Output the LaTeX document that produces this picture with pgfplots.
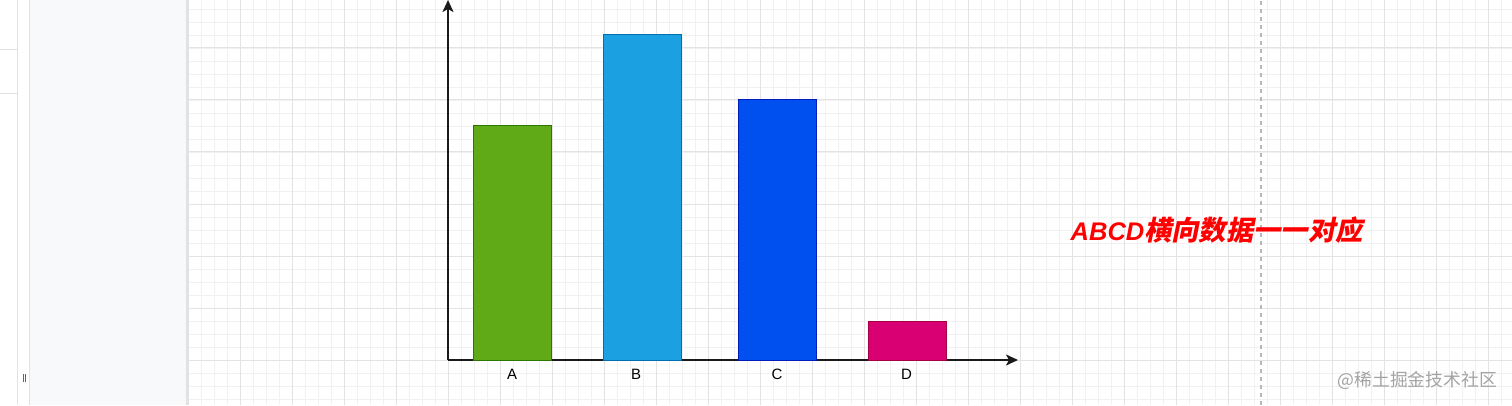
\documentclass[border=0pt]{standalone}
\usepackage{fontspec}
\setmainfont{Liberation Sans}
\newfontfamily\cjk[FakeSlant=0.2]{Noto Sans CJK SC}
\newfontfamily\cjkplain{Noto Sans CJK SC}
\usepackage{pgfplots}
\pgfplotsset{compat=1.18}
\usetikzlibrary{arrows.meta}
\definecolor{gminor}{HTML}{F1F1F1}
\definecolor{gmajor}{HTML}{E3E3E3}
\definecolor{panel}{HTML}{F8F9FA}
\definecolor{pline}{HTML}{E2E2E2}
\definecolor{barA}{HTML}{60A917}\definecolor{barAd}{HTML}{2D7600}
\definecolor{barB}{HTML}{1BA1E2}\definecolor{barBd}{HTML}{006EAF}
\definecolor{barC}{HTML}{0050EF}\definecolor{barCd}{HTML}{001DBC}
\definecolor{barD}{HTML}{D80073}\definecolor{barDd}{HTML}{A50040}
\definecolor{wm}{HTML}{A3A3A3}
\definecolor{axisc}{HTML}{1A1A1A}
\newcommand\redtext{{\fontsize{25.5}{30}\selectfont\bfseries\itshape ABCD}{\cjk\fontsize{27.3}{30}\selectfont\bfseries 横向数据一一对应}}
\newcommand\wmtext{{\cjkplain\fontsize{17.8}{22}\selectfont @稀土掘金技术社区}}
\begin{document}
\begin{tikzpicture}[x=1pt,y=1pt]
\useasboundingbox (0,0) rectangle (1512,405);
\fill[white] (0,0) rectangle (1512,405);
% left panel
\fill[panel] (29,0) rectangle (186,405);
\draw[pline,line width=1] (17,0) -- (17,405);
\draw[pline,line width=1] (29,0) -- (29,405);
\fill[pline] (186,0) rectangle (188,405);
\draw[pline,line width=1] (0,355) -- (17,355);
\draw[pline,line width=1] (0,311) -- (17,311);
\draw[black!60,line width=1] (23,23) -- (23,31);
\draw[black!60,line width=1] (25,23) -- (25,31);
% grid
\foreach \i in {0,...,101} {\draw[gminor,line width=0.8] ({188+13*\i},0) -- ({188+13*\i},405);}
\foreach \k in {0,...,30} {\draw[gminor,line width=0.8] (188,{6+13*\k}) -- (1512,{6+13*\k});}
\foreach \i in {0,...,25} {\draw[gmajor,line width=1] ({188+52*\i},0) -- ({188+52*\i},405);}
\foreach \k in {0,...,6} {\draw[gmajor,line width=1] (188,{45+52*\k}) -- (1512,{45+52*\k});}
% page break dashed line
\draw[black!28,line width=1.3,dash pattern=on 4pt off 4pt] (1261,0) -- (1261,405);
% chart
\begin{axis}[
  at={(448pt,45pt)}, anchor=south west,
  scale only axis, width=570pt, height=360pt,
  xmin=448, xmax=1018, ymin=0, ymax=27.6923,
  axis lines=left,
  axis line style={axisc, line width=1.6pt},
  every outer x axis line/.append style={-{Stealth[length=12pt,width=11pt,inset=3pt]}},
  every outer y axis line/.append style={-{Stealth[length=12pt,width=11pt,inset=3pt]}},
  ytick=\empty,
  xtick={512,636,777,906.5},
  xticklabels={A,B,C,D},
  major tick length=0pt,
  xticklabel style={anchor=center, yshift=-14pt, font=\fontsize{15}{18}\selectfont},
  clip=false,
]
\addplot[ybar, bar shift=0pt, bar width=78, fill=barA, draw=barAd, line width=1pt] coordinates {(512.75,18)};
\addplot[ybar, bar shift=0pt, bar width=78, fill=barB, draw=barBd, line width=1pt] coordinates {(642.4,25)};
\addplot[ybar, bar shift=0pt, bar width=78, fill=barC, draw=barCd, line width=1pt] coordinates {(777.5,20)};
\addplot[ybar, bar shift=0pt, bar width=78, fill=barD, draw=barDd, line width=1pt] coordinates {(907,3)};
\end{axis}
% annotation on a soft white halo
\node[anchor=base west, inner sep=0, text=red] at (1070.5,164.3) {\redtext};
% watermark
\node[anchor=east, inner sep=0, text=wm] at (1497,25) {\wmtext};
\end{tikzpicture}
\end{document}
